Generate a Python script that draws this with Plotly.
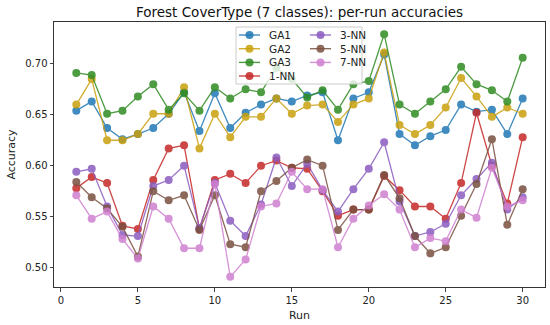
import plotly.graph_objects as go

runs = list(range(1, 31))

ga1 = [0.654, 0.663, 0.637, 0.626, 0.631, 0.637, 0.651, 0.672, 0.634, 0.671,
       0.637, 0.652, 0.660, 0.666, 0.663, 0.669, 0.672, 0.625, 0.666, 0.672,
       0.709, 0.631, 0.620, 0.629, 0.635, 0.660, 0.653, 0.655, 0.631, 0.666]
ga2 = [0.660, 0.685, 0.625, 0.625, 0.631, 0.651, 0.651, 0.677, 0.617, 0.651,
       0.628, 0.648, 0.648, 0.666, 0.651, 0.659, 0.660, 0.643, 0.660, 0.666,
       0.711, 0.640, 0.631, 0.640, 0.657, 0.686, 0.668, 0.648, 0.657, 0.651]
ga3 = [0.691, 0.689, 0.651, 0.654, 0.668, 0.680, 0.655, 0.671, 0.654, 0.677,
       0.666, 0.675, 0.672, 0.696, 0.685, 0.667, 0.674, 0.655, 0.680, 0.683,
       0.729, 0.660, 0.651, 0.663, 0.675, 0.697, 0.680, 0.674, 0.663, 0.706]
nn1 = [0.578, 0.589, 0.583, 0.541, 0.538, 0.586, 0.617, 0.620, 0.538, 0.586,
       0.592, 0.583, 0.600, 0.605, 0.598, 0.597, 0.575, 0.551, 0.557, 0.557,
       0.590, 0.576, 0.560, 0.560, 0.548, 0.583, 0.652, 0.600, 0.563, 0.628]
nn3 = [0.594, 0.597, 0.560, 0.532, 0.531, 0.580, 0.586, 0.600, 0.539, 0.583,
       0.546, 0.531, 0.562, 0.608, 0.580, 0.602, 0.576, 0.555, 0.577, 0.597,
       0.623, 0.565, 0.531, 0.535, 0.543, 0.571, 0.587, 0.603, 0.557, 0.569]
nn5 = [0.584, 0.569, 0.558, 0.540, 0.511, 0.575, 0.566, 0.571, 0.537, 0.571,
       0.523, 0.520, 0.575, 0.585, 0.598, 0.606, 0.600, 0.537, 0.557, 0.557,
       0.591, 0.568, 0.531, 0.514, 0.520, 0.551, 0.582, 0.626, 0.542, 0.577]
nn7 = [0.571, 0.548, 0.555, 0.528, 0.509, 0.560, 0.548, 0.519, 0.519, 0.582,
       0.491, 0.508, 0.560, 0.563, 0.594, 0.577, 0.577, 0.520, 0.548, 0.561,
       0.572, 0.557, 0.520, 0.529, 0.526, 0.557, 0.549, 0.598, 0.560, 0.566]

series_names = ["GA1", "GA2", "GA3", "1-NN", "3-NN", "5-NN", "7-NN"]
series_values = [ga1, ga2, ga3, nn1, nn3, nn5, nn7]
series_colors = ["#1f77b4", "#c9a00c", "#2e8b22", "#c62828",
                 "#8a5cc0", "#7a5040", "#d07fd0"]

W, H = 550, 325
L, R, T, B = 54, 5, 22, 38
PW, PH = W - L - R, H - T - B


def px_x(p):
    return (p - L) / PW


def px_y(p):
    return (H - B - p) / PH


fig = go.Figure()
for name, vals, color in zip(series_names, series_values, series_colors):
    fig.add_trace(go.Scatter(
        x=runs, y=vals, name=name, mode="lines+markers",
        line=dict(color=color, width=1.3),
        marker=dict(color=color, size=8),
        opacity=0.85, showlegend=False,
    ))

# custom compact legend (2 columns, matplotlib-like spacing)
shapes = [dict(type="rect", xref="paper", yref="paper",
               x0=px_x(236), x1=px_x(362), y0=px_y(84), y1=px_y(27),
               fillcolor="rgba(255,255,255,0.8)",
               line=dict(color="#cccccc", width=1), layer="above")]
annotations = []
col_x = [239, 310]
row_y = [35, 48.7, 62.4, 76]
for i, (name, color) in enumerate(zip(series_names, series_colors)):
    col = 0 if i < 4 else 1
    row = i if i < 4 else i - 4
    x0 = col_x[col]
    y = row_y[row]
    shapes.append(dict(type="line", xref="paper", yref="paper",
                       x0=px_x(x0), x1=px_x(x0 + 21), y0=px_y(y), y1=px_y(y),
                       line=dict(color=color, width=1.4), opacity=0.85,
                       layer="above"))
    shapes.append(dict(type="circle", xref="paper", yref="paper",
                       x0=px_x(x0 + 10.5 - 4), x1=px_x(x0 + 10.5 + 4),
                       y0=px_y(y + 4), y1=px_y(y - 4),
                       fillcolor=color, line=dict(color=color, width=0),
                       opacity=0.85, layer="above"))
    annotations.append(dict(text=name, xref="paper", yref="paper",
                            x=px_x(x0 + 28), y=px_y(y), xanchor="left",
                            yanchor="middle", showarrow=False,
                            font=dict(size=10.5, color="#222")))

fig.update_layout(
    width=W, height=H,
    margin=dict(l=L, r=R, t=T, b=B, autoexpand=False),
    paper_bgcolor="white", plot_bgcolor="white",
    font=dict(family="DejaVu Sans", size=10, color="#222"),
    title=dict(text="Forest CoverType (7 classes): per-run accuracies",
               x=0.5, xanchor="center", xref="paper",
               y=1 - 12 / H, yanchor="middle", yref="container",
               font=dict(size=13.5, color="#111")),
    xaxis=dict(range=[-0.45, 31.45], tickvals=[0, 5, 10, 15, 20, 25, 30],
               ticks="outside", ticklen=3.5, showgrid=False, zeroline=False,
               showline=True, linecolor="#333", linewidth=1, mirror=True,
               automargin=False,
               title=dict(text="Run", font=dict(size=11), standoff=6)),
    yaxis=dict(range=[0.481, 0.741], tickvals=[0.50, 0.55, 0.60, 0.65, 0.70],
               tickformat=".2f",
               ticks="outside", ticklen=3.5, showgrid=False, zeroline=False,
               showline=True, linecolor="#333", linewidth=1, mirror=True,
               automargin=False,
               title=dict(text="Accuracy", font=dict(size=11), standoff=7)),
    shapes=shapes,
    annotations=annotations,
    showlegend=False,
)

fig.write_html("out.html",
               config={"displayModeBar": False},
               post_script="document.body.style.margin='0px';"
                           "document.body.style.padding='0px';")
